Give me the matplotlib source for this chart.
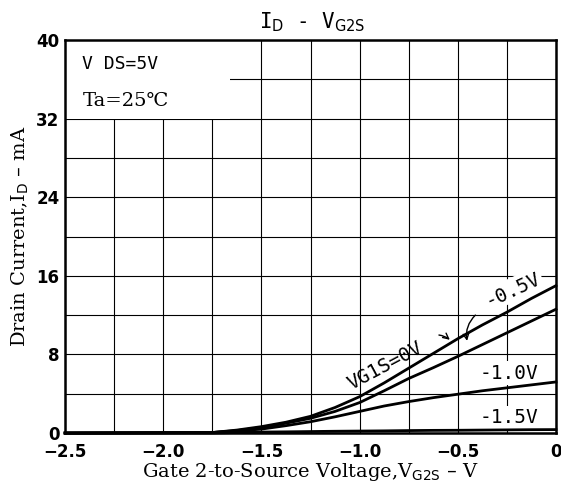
import matplotlib
matplotlib.use('Agg')
from matplotlib import pyplot as plt
from matplotlib.patches import Rectangle
import numpy as np

# gate 2 voltage (V) and drain current (mA)
vg2s = [-2.5, -1.75, -1.625, -1.5, -1.375, -1.25, -1.125, -1.0, -0.875,
        -0.75, -0.625, -0.5, -0.375, -0.25, -0.125, 0.0]
id_vg1_0 = [0, 0.05, 0.3, 0.65, 1.1, 1.7, 2.6, 3.7, 5.1,
            6.6, 8.1, 9.6, 11.0, 12.3, 13.7, 15.0]
id_vg1_m05 = [0, 0.05, 0.25, 0.55, 1.0, 1.5, 2.2, 3.1, 4.3,
              5.55, 6.65, 7.8, 9.0, 10.2, 11.4, 12.6]
id_vg1_m10 = [0, 0.05, 0.2, 0.4, 0.75, 1.15, 1.65, 2.2, 2.75,
              3.2, 3.6, 3.95, 4.3, 4.6, 4.9, 5.2]
id_vg1_m15 = [0, 0, 0.05, 0.1, 0.12, 0.15, 0.18, 0.2, 0.22,
              0.25, 0.27, 0.28, 0.3, 0.32, 0.34, 0.35]

xticks = [-2.5, -2.0, -1.5, -1.0, -0.5, 0]
xtick_labels = ['−2.5', '−2.0', '−1.5', '−1.0', '−0.5', '0']
yticks = [0, 8, 16, 24, 32, 40]

fig = plt.figure(figsize=(5.61, 4.86), dpi=100)
ax = fig.add_axes([0.116, 0.109, 0.875, 0.8085])

for ys in [id_vg1_0, id_vg1_m05, id_vg1_m10, id_vg1_m15]:
    ax.plot(vg2s, ys, color='black', lw=2.0, zorder=3, clip_on=False,
            solid_joinstyle='round')

ax.set_xlim(-2.5, 0)
ax.set_ylim(0, 40)
ax.set_xticks(xticks)
ax.set_xticklabels(xtick_labels, fontweight='bold', fontsize=12)
ax.set_xticks(np.arange(-2.5, 0.01, 0.25), minor=True)
ax.set_yticks(yticks)
ax.set_yticklabels([str(v) for v in yticks], fontweight='bold', fontsize=12)
ax.set_yticks(np.arange(0, 41, 4), minor=True)
ax.tick_params(which='both', length=0)
ax.tick_params(axis='x', pad=7.5)
ax.tick_params(axis='y', pad=4)
ax.set_axisbelow(True)
ax.grid(which='both', color='black', lw=0.8)
for s in ax.spines.values():
    s.set_linewidth(1.8)
    s.set_zorder(5)

mono = 'DejaVu Sans Mono'

# blank corner for the conditions
ax.add_patch(Rectangle((0, 0.8), 0.336, 0.2, transform=ax.transAxes,
                       facecolor='white', edgecolor='none', zorder=1))
ax.text(0.035, 0.94, 'V DS=5V', transform=ax.transAxes, fontsize=13,
        va='center', ha='left', zorder=4, family=mono)
ax.text(0.035, 0.845, 'Ta=25℃', transform=ax.transAxes, fontsize=14,
        va='center', ha='left', zorder=4, family='DejaVu Serif')

lab = dict(fontsize=14, zorder=2, ha='center', va='center', family=mono)
box = dict(facecolor='white', edgecolor='none', pad=1.5)
ax.text(-0.87, 6.8, 'VG1S=0V', rotation=28, **lab)
ax.annotate('', xy=(-0.53, 9.3), xytext=(-0.61, 10.0),
            arrowprops=dict(arrowstyle='->', lw=1.0, color='black',
                            connectionstyle='arc3,rad=-0.2'))
ax.text(-0.22, 14.6, '-0.5V', rotation=25, bbox=box, **lab)
ax.annotate('', xy=(-0.45, 9.1), xytext=(-0.40, 12.2),
            arrowprops=dict(arrowstyle='->', lw=1.0, color='black',
                            connectionstyle='arc3,rad=0.3'))
ax.text(-0.24, 6.1, '-1.0V', bbox=box, **lab)
ax.text(-0.24, 1.6, '-1.5V', bbox=box, **lab)

fig.text(0.556, 0.955, 'I$_{\\rm D}$ - V$_{\\rm G2S}$', fontsize=15,
         ha='center', va='center', family=mono)
ax.set_xlabel('Gate 2-to-Source Voltage,V$_{\\rm G2S}$ – V', fontsize=14,
              family='DejaVu Serif', labelpad=0)
ax.set_ylabel('Drain Current,I$_{\\rm D}$ – mA', fontsize=14,
              family='DejaVu Serif', labelpad=4)

plt.savefig('out.png', dpi=100)
